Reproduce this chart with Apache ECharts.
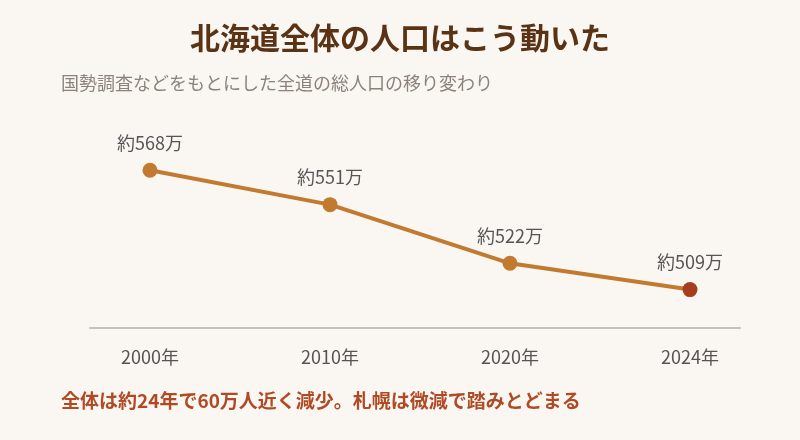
<!DOCTYPE html>
<html><head><meta charset="utf-8">
<script src="https://cdn.jsdelivr.net/npm/echarts@6/dist/echarts.min.js"></script>
<style>html,body{margin:0;padding:0;background:#faf7f3}#c{width:800px;height:440px}</style>
</head><body><div id="c"></div>
<script>
const titleText = '北海道全体の人口はこう動いた';
const subtitleText = '国勢調査などをもとにした全道の総人口の移り変わり';
const noteText = '全体は約24年で60万人近く減少。札幌は微減で踏みとどまる';
const years = ['2000年', '2010年', '2020年', '2024年'];
const population = [568, 551, 522, 509]; // 万人
const pointLabels = ['約568万', '約551万', '約522万', '約509万'];

const FONT = '"Noto Sans CJK JP", "Noto Sans", sans-serif';
const chart = echarts.init(document.getElementById('c'));
const lastIdx = population.length - 1;
chart.setOption({
  backgroundColor: '#faf7f3',
  animation: false,
  title: [
    { text: titleText, left: 'center', top: 23, padding: 0,
      textStyle: { fontFamily: FONT, fontSize: 30, fontWeight: 'bold', color: '#5a3214' } },
    { text: subtitleText, left: 61, top: 74, padding: 0,
      textStyle: { fontFamily: FONT, fontSize: 18, fontWeight: 'normal', color: '#8c827b' } },
    { text: noteText, left: 61, top: 391, padding: 0,
      textStyle: { fontFamily: FONT, fontSize: 19, fontWeight: 'bold', color: '#b04a25' } }
  ],
  grid: { left: 90, right: 60, top: 146, bottom: 112 },
  xAxis: {
    type: 'value', min: -1/3, max: 3.2778,
    splitLine: { show: false },
    axisLine: { show: true, onZero: false, lineStyle: { color: '#c9c0b9', width: 2 } },
    axisTick: { show: false },
    axisLabel: {
      customValues: years.map((_, i) => i),
      formatter: v => years[Math.round(v)] || '',
      margin: 20, fontFamily: FONT, fontSize: 18, color: '#555'
    }
  },
  yAxis: { type: 'value', min: 490, max: 580, show: false, splitLine: { show: false } },
  series: [{
    type: 'line',
    data: population.map((v, i) => ({
      value: [i, v],
      itemStyle: { color: i === lastIdx ? '#a83c1e' : '#c27a30' }
    })),
    symbolSize: 15,
    lineStyle: { color: '#c27a30', width: 4 },
    symbol: 'circle',
    label: {
      show: true, position: 'top', distance: 11,
      formatter: p => pointLabels[p.dataIndex],
      fontFamily: FONT, fontSize: 18, color: '#555'
    }
  }]
});
</script></body></html>
